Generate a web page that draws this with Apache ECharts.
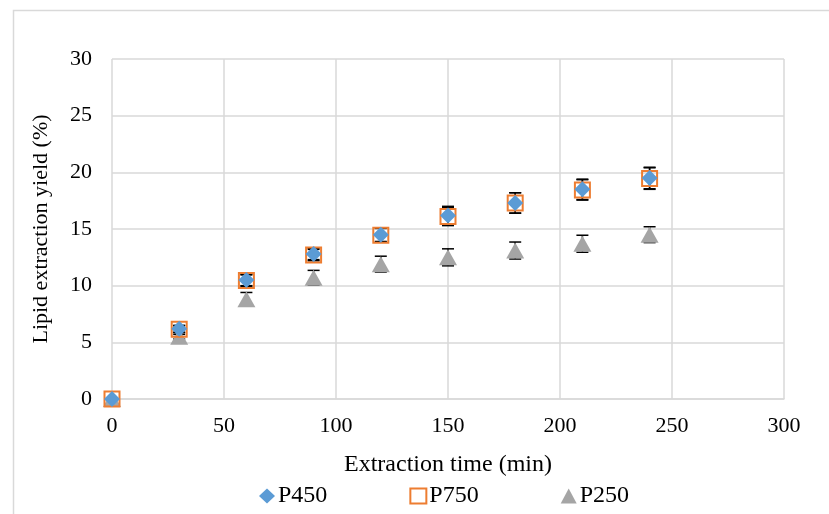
<!DOCTYPE html>
<html>
<head>
<meta charset="utf-8">
<script src="https://cdn.jsdelivr.net/npm/echarts@6/dist/echarts.min.js"></script>
<style>
html,body{margin:0;padding:0;background:#fff;}
#chart{width:829px;height:514px;}
</style>
</head>
<body>
<div id="chart"></div>
<script>
const times = [0, 30, 60, 90, 120, 150, 180, 210, 240];
const p450 = [0, 6.2, 10.5, 12.8, 14.5, 16.2, 17.3, 18.5, 19.5];
const p450Err = [0, 0.3, 0.5, 0.5, 0.6, 0.8, 0.9, 0.9, 0.95];
const p750 = [0, 6.15, 10.45, 12.7, 14.45, 16.1, 17.3, 18.45, 19.45];
const p750Err = [0, 0.3, 0.5, 0.5, 0.6, 0.8, 0.9, 0.9, 0.95];
const p250 = [0, 5.5, 8.8, 10.7, 11.9, 12.5, 13.1, 13.7, 14.5];
const p250Err = [0, 0.2, 0.6, 0.65, 0.7, 0.75, 0.75, 0.75, 0.7];
const seriesNames = ['P450', 'P750', 'P250'];

const FONT = 'Liberation Serif';
const chart = echarts.init(document.getElementById('chart'));

function pts(vals) { return times.map((t, i) => [t, vals[i]]); }
function errData(vals, errs) { return times.map((t, i) => [t, vals[i] - errs[i], vals[i] + errs[i]]); }

function errSeries(name, vals, errs) {
  return {
    name: name,
    type: 'custom',
    z: 1,
    silent: true,
    data: errData(vals, errs),
    encode: { x: 0, y: [1, 2] },
    renderItem: function (params, api) {
      const x = api.value(0);
      const lo = api.coord([x, api.value(1)]);
      const hi = api.coord([x, api.value(2)]);
      const half = 6;
      const st = { stroke: '#000', lineWidth: 1.5 };
      return {
        type: 'group',
        children: [
          { type: 'line', shape: { x1: lo[0], y1: lo[1], x2: hi[0], y2: hi[1] }, style: st },
          { type: 'line', shape: { x1: lo[0] - half, y1: lo[1], x2: lo[0] + half, y2: lo[1] }, style: st },
          { type: 'line', shape: { x1: hi[0] - half, y1: hi[1], x2: hi[0] + half, y2: hi[1] }, style: st }
        ]
      };
    }
  };
}

const option = {
  animation: false,
  backgroundColor: '#fff',
  graphic: [{
    type: 'rect', left: 11, top: 8, shape: { width: 840, height: 540 },
    style: { fill: 'none', stroke: '#d9d9d9', lineWidth: 1.5 }, silent: true, z: -10
  }],
  grid: { left: 112, right: 45, top: 59, bottom: 115 },
  xAxis: {
    type: 'value', min: 0, max: 300, interval: 50,
    name: 'Extraction time (min)', nameLocation: 'middle', nameGap: 54,
    nameTextStyle: { fontFamily: FONT, fontSize: 24, color: '#000' },
    axisLine: { show: true, lineStyle: { color: '#d9d9d9', width: 1.5 } },
    axisTick: { show: false },
    axisLabel: { fontFamily: FONT, fontSize: 22, color: '#000', margin: 16 },
    splitLine: { show: true, lineStyle: { color: '#d9d9d9', width: 1.5 } }
  },
  yAxis: {
    type: 'value', min: 0, max: 30, interval: 5,
    name: 'Lipid extraction yield (%)', nameLocation: 'middle', nameGap: 60,
    nameTextStyle: { fontFamily: FONT, fontSize: 22, color: '#000' },
    axisLine: { show: false },
    axisTick: { show: false },
    axisLabel: { fontFamily: FONT, fontSize: 22, color: '#000', margin: 20 },
    splitLine: { show: true, lineStyle: { color: '#d9d9d9', width: 1.5 } }
  },
  legend: {
    data: seriesNames,
    bottom: 1, left: 254,
    itemGap: 82, itemWidth: 16, itemHeight: 15,
    textStyle: { fontFamily: FONT, fontSize: 24, color: '#000', padding: [0, 0, 0, -2] }
  },
  series: [
    errSeries('P250 err', p250, p250Err),
    errSeries('P750 err', p750, p750Err),
    errSeries('P450 err', p450, p450Err),
    {
      name: 'P250', type: 'scatter', z: 2, data: pts(p250),
      symbol: 'triangle', symbolSize: [18, 16],
      itemStyle: { color: '#A5A5A5', opacity: 1 }
    },
    {
      name: 'P750', type: 'scatter', z: 3, data: pts(p750),
      symbol: 'rect', symbolSize: 15,
      itemStyle: { color: 'rgba(255,255,255,0)', borderColor: '#ED7D31', borderWidth: 2, opacity: 1 }
    },
    {
      name: 'P450', type: 'scatter', z: 4, data: pts(p450),
      symbol: 'diamond', symbolSize: 16,
      itemStyle: { color: '#5B9BD5', opacity: 1 }
    }
  ]
};
chart.setOption(option);
</script>
</body>
</html>
